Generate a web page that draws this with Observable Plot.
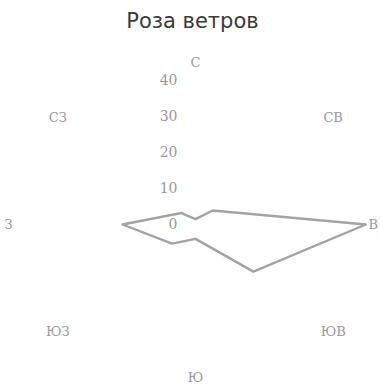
<!DOCTYPE html>
<html><head><meta charset="utf-8">
<script src="https://cdn.jsdelivr.net/npm/d3@7"></script>
<script src="https://cdn.jsdelivr.net/npm/@observablehq/plot@0.6"></script>
<style>body{margin:0;background:#fff}</style>
</head><body><div id="chart"></div>
<script>
const directions = ["С","СВ","В","ЮВ","Ю","ЮЗ","З","СЗ"];
const values = [1.5, 5.5, 38.5, 18.5, 4, 7.5, 16.5, 4.5];
const ticks = [0, 10, 20, 30, 40];
const title = "Роза ветров";
const rMax = 40;

const ang = i => i * 2 * Math.PI / directions.length;
const pts = directions.map((d, i) => ({d, x: values[i] * Math.sin(ang(i)), y: values[i] * Math.cos(ang(i))}));
const closed = [...pts, pts[0]];

const labels = directions.map((d, i) => {
  const a = ang(i), s = Math.sin(a), c = Math.cos(a);
  const horiz = Math.abs(c) < 0.01, vert = Math.abs(s) < 0.01;
  const rx = horiz ? rMax : rMax + 4;
  const ry = vert ? (c > 0 ? rMax + 5 : rMax + 2.6) : rMax + 2;
  return {d, x: rx * s, y: ry * c, anchor: horiz ? (s > 0 ? "start" : "end") : "middle"};
});

const serif = "'DejaVu Serif', serif";
const gray = "#999999";
const chart = Plot.plot({
  width: 380, height: 387,
  margin: 0,
  x: {domain: [-rMax, rMax], range: [18, 372], axis: null},
  y: {domain: [-rMax, rMax], range: [368, 80], axis: null},
  style: {background: "#fff"},
  marks: [
    Plot.text([title], {frameAnchor: "top", text: d => d, dy: 13, dx: 2, fontSize: 21, fill: "#3a3a3a",
      fontFamily: "'DejaVu Sans', sans-serif", style: {letterSpacing: "4px"}}),
    Plot.line(closed, {x: "x", y: "y", stroke: "#a3a3a3", strokeWidth: 2.4, strokeLinejoin: "round"}),
    Plot.text(ticks, {x: 0, y: d => d, text: d => String(d), textAnchor: "end", dx: -18, dy: 0,
      fontSize: 14, fill: gray, fontFamily: serif}),
    Plot.text(labels.filter(l => l.anchor === "middle"), {x: "x", y: "y", text: "d", textAnchor: "middle",
      fontSize: 13, fill: gray, fontFamily: serif}),
    Plot.text(labels.filter(l => l.anchor === "start"), {x: "x", y: "y", text: "d", textAnchor: "start", dx: -4,
      fontSize: 13, fill: gray, fontFamily: serif}),
    Plot.text(labels.filter(l => l.anchor === "end"), {x: "x", y: "y", text: "d", textAnchor: "end", dx: -6,
      fontSize: 13, fill: gray, fontFamily: serif})
  ]
});
document.getElementById("chart").appendChild(chart);
</script></body></html>
